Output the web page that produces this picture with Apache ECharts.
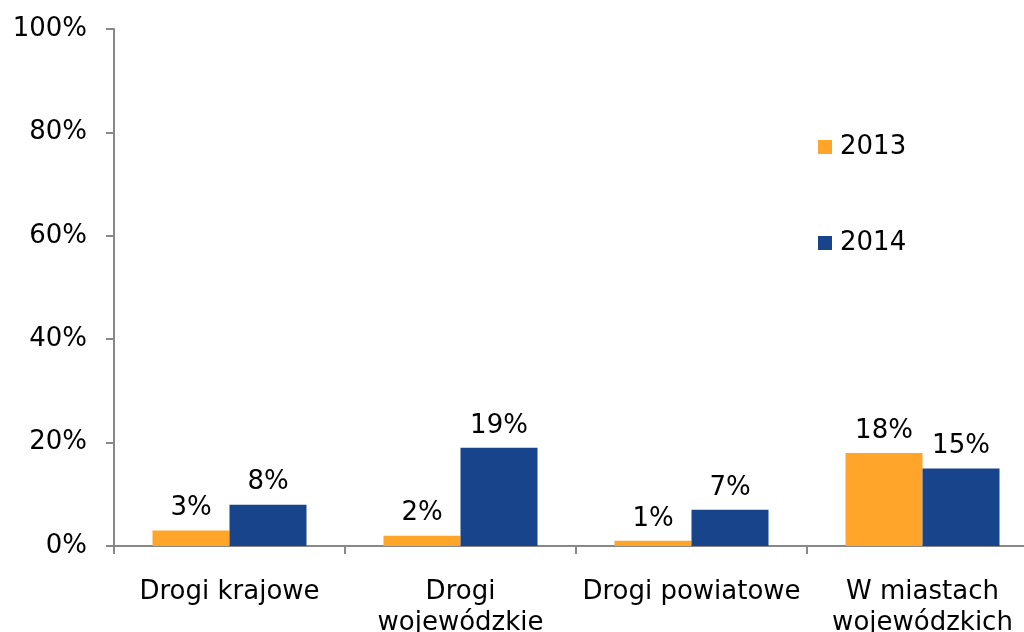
<!DOCTYPE html>
<html><head><meta charset="utf-8">
<script src="https://cdn.jsdelivr.net/npm/echarts@6/dist/echarts.min.js"></script>
<style>html,body{margin:0;padding:0;background:#fff;overflow:hidden;width:1024px;height:632px}#c{width:1038px;height:632px}</style>
</head><body><div id="c"></div>
<script>
var categories = ['Drogi krajowe', 'Drogi\nwojewódzkie', 'Drogi powiatowe', 'W miastach\nwojewódzkich'];
var values2013 = [3, 2, 1, 18];
var values2014 = [8, 19, 7, 15];
var yTicks = [0, 20, 40, 60, 80, 100];

var font = 'DejaVu Sans';
var fs = 26;
var chart = echarts.init(document.getElementById('c'), null, {renderer: 'canvas'});
var lbl = {show: true, position: 'top', distance: 9, formatter: '{c}%', color: '#000', fontSize: fs, fontFamily: font};
chart.setOption({
  animation: false,
  textStyle: {fontFamily: font},
  grid: {left: 114, top: 29, bottom: 86, right: 0, containLabel: false, outerBoundsMode: 'none'},
  legend: {
    orient: 'vertical', left: 818, top: 134, padding: 0, icon: 'rect', itemWidth: 14, itemHeight: 14, itemGap: 70,
    textStyle: {fontSize: fs, color: '#000', fontFamily: font, lineHeight: 26, padding: [0, 0, 0, 3]},
    data: ['2013', '2014']
  },
  xAxis: {
    type: 'category', data: categories,
    axisLine: {lineStyle: {color: '#888', width: 2}},
    axisTick: {show: true, length: 8, lineStyle: {color: '#888', width: 2}},
    axisLabel: {color: '#000', fontSize: fs, fontFamily: font, margin: 31, lineHeight: 31, interval: 0}
  },
  yAxis: {
    type: 'value', min: 0, max: 100, interval: 20,
    axisLine: {show: true, lineStyle: {color: '#888', width: 2}},
    axisTick: {show: true, length: 8, lineStyle: {color: '#888', width: 2}},
    splitLine: {show: false},
    axisLabel: {color: '#000', fontSize: fs, fontFamily: font, margin: 27,
      formatter: function (v) { return yTicks.indexOf(v) >= 0 ? v + '%' : ''; }}
  },
  series: [
    {name: '2013', type: 'bar', data: values2013, barWidth: 77, barGap: '0%', itemStyle: {color: '#FFA52A'}, label: lbl},
    {name: '2014', type: 'bar', data: values2014, barWidth: 77, barGap: '0%', itemStyle: {color: '#17448B'}, label: lbl}
  ]
});
</script></body></html>
